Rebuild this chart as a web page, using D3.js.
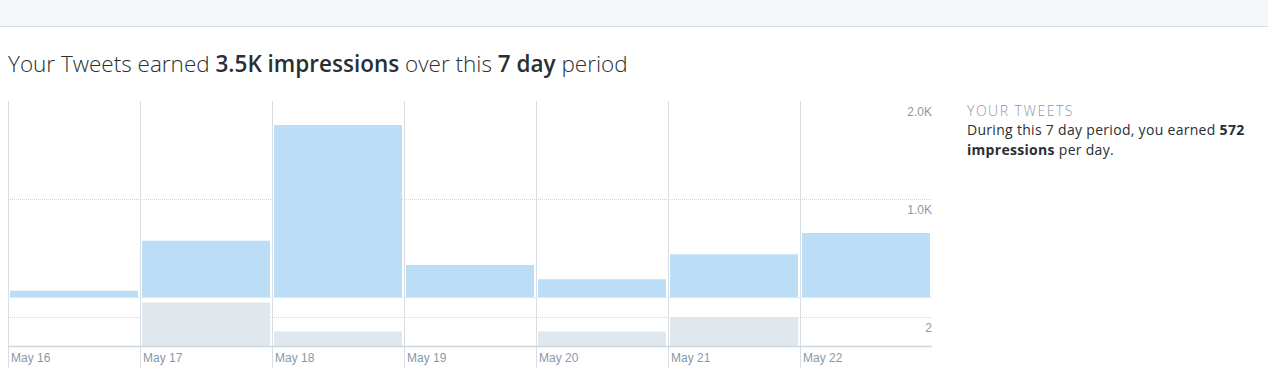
<!DOCTYPE html>
<html>
<head>
<meta charset="utf-8">
<script src="https://cdn.jsdelivr.net/npm/d3@7"></script>
<style>
  body { margin: 0; background: #fff; }
  svg { display: block; font-family: "Open Sans", "DejaVu Sans", sans-serif; }
  .axisText { font-family: "Liberation Sans", Arial, sans-serif; }
</style>
</head>
<body>
<svg id="chart" width="1268" height="379"></svg>
<script>
const days = ["May 16", "May 17", "May 18", "May 19", "May 20", "May 21", "May 22"];
const impressions = [64, 574, 1755, 327, 181, 436, 653];
const engagements = [0, 3, 1, 0, 1, 2, 0];
const topTicks = [1000, 2000];
const bottomTicks = [2];

const svg = d3.select("#chart");

// header strip
svg.append("rect")
    .attr("x", 0).attr("y", 0)
    .attr("width", 1268).attr("height", 26)
    .style("fill", "#f5f8fa");
svg.append("line")
    .attr("x1", 0).attr("x2", 1268)
    .attr("y1", 26.5).attr("y2", 26.5)
    .style("stroke", "#d4dbe0");

// title
const title = svg.append("text")
    .attr("x", 8).attr("y", 72)
    .style("font-size", "22.5px")
    .style("fill", "#292f33")
    .style("font-weight", 300);
title.append("tspan").text("Your Tweets earned ");
title.append("tspan").style("font-weight", 600).text("3.5K impressions");
title.append("tspan").text(" over this ");
title.append("tspan").style("font-weight", 600).text("7 day");
title.append("tspan").text(" period");

// scales
const x = d3.scaleBand()
    .domain(days)
    .range([8, 932]);

const yTop = d3.scaleLinear()
    .domain([0, 2000])
    .range([297, 101]);

const yBot = d3.scaleLinear()
    .domain([0, 2])
    .range([346, 317]);

const g = svg.append("g");

// vertical column separators
g.selectAll(".sep")
    .data(days)
    .enter()
    .append("line")
    .attr("class", "sep")
    .attr("x1", d => x(d) + 0.5)
    .attr("x2", d => x(d) + 0.5)
    .attr("y1", 101)
    .attr("y2", 368)
    .style("stroke", "#d8dee3");

// dotted gridlines
g.selectAll(".gridTop")
    .data(topTicks.filter(t => t < 2000))
    .enter()
    .append("line")
    .attr("x1", 8).attr("x2", 932)
    .attr("y1", d => yTop(d) + 0.5).attr("y2", d => yTop(d) + 0.5)
    .style("stroke", "#cfd6db")
    .style("stroke-dasharray", "1,1");

g.selectAll(".gridBot")
    .data(bottomTicks)
    .enter()
    .append("line")
    .attr("x1", 8).attr("x2", 932)
    .attr("y1", d => yBot(d) + 0.5).attr("y2", d => yBot(d) + 0.5)
    .style("stroke", "#cfd6db")
    .style("stroke-dasharray", "1,1");

// impressions bars
g.selectAll(".imp")
    .data(days)
    .enter()
    .append("rect")
    .attr("class", "imp")
    .attr("x", d => x(d) + 2)
    .attr("y", (d, i) => yTop(impressions[i]))
    .attr("width", x.bandwidth() - 4)
    .attr("height", (d, i) => yTop(0) - yTop(impressions[i]))
    .style("fill", "#bbddf5");

// engagement bars
g.selectAll(".eng")
    .data(days)
    .enter()
    .append("rect")
    .attr("class", "eng")
    .attr("x", d => x(d) + 2)
    .attr("y", (d, i) => yBot(engagements[i]))
    .attr("width", x.bandwidth() - 4)
    .attr("height", (d, i) => yBot(0) - yBot(engagements[i]))
    .style("fill", "#e1e8ed");

// baselines
g.append("line")
    .attr("x1", 8).attr("x2", 932)
    .attr("y1", yTop(0) + 0.5).attr("y2", yTop(0) + 0.5)
    .style("stroke", "#e1e8ed");
g.append("line")
    .attr("x1", 8).attr("x2", 932)
    .attr("y1", yBot(0) + 0.5).attr("y2", yBot(0) + 0.5)
    .style("stroke", "#ccd6dd")
    .style("stroke-width", 1.5);

// tick labels on the right
g.selectAll(".tickTop")
    .data(topTicks)
    .enter()
    .append("text")
    .attr("class", "axisText")
    .attr("x", 932)
    .attr("y", d => yTop(d) + 15)
    .attr("text-anchor", "end")
    .style("font-size", "12px")
    .style("fill", "#8899a6")
    .text(d => d3.format(".1f")(d / 1000) + "K");

g.selectAll(".tickBot")
    .data(bottomTicks)
    .enter()
    .append("text")
    .attr("class", "axisText")
    .attr("x", 932)
    .attr("y", d => yBot(d) + 15)
    .attr("text-anchor", "end")
    .style("font-size", "12px")
    .style("fill", "#8899a6")
    .text(d => d);

// date labels
g.selectAll(".day")
    .data(days)
    .enter()
    .append("text")
    .attr("class", "axisText")
    .attr("x", d => x(d) + 3)
    .attr("y", 362)
    .style("font-size", "12px")
    .style("fill", "#8899a6")
    .text(d => d);

// side note
const side = svg.append("g").attr("transform", "translate(967,0)");
side.append("text")
    .attr("y", 116)
    .style("font-size", "14px")
    .style("letter-spacing", "1.5px")
    .style("fill", "#8899a6")
    .style("font-weight", 300)
    .text("YOUR TWEETS");
const l1 = side.append("text")
    .attr("y", 135)
    .style("font-size", "14px")
    .style("letter-spacing", "0.3px")
    .style("fill", "#292f33");
l1.append("tspan").text("During this 7 day period, you earned ");
l1.append("tspan").style("font-weight", 700).text("572");
const l2 = side.append("text")
    .attr("y", 155)
    .style("font-size", "14px")
    .style("letter-spacing", "0.3px")
    .style("fill", "#292f33");
l2.append("tspan").style("font-weight", 700).text("impressions");
l2.append("tspan").text(" per day.");
</script>
</body>
</html>
